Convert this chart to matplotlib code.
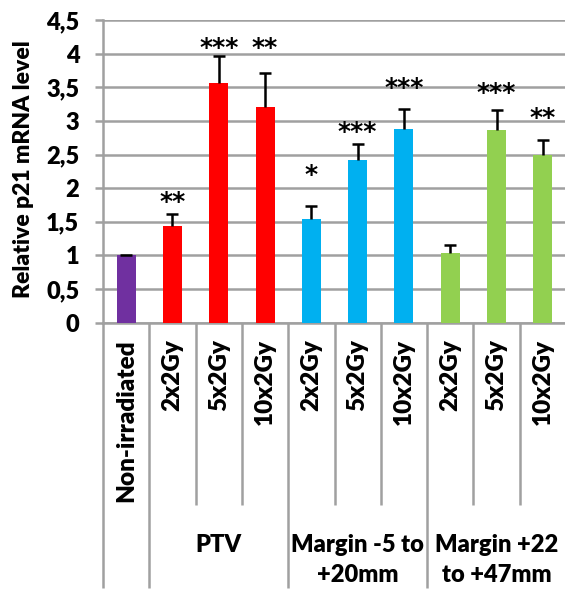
import matplotlib.pyplot as plt
import matplotlib.transforms as mtransforms
import numpy as np

# data
categories = ['Non-irradiated', '2x2Gy', '5x2Gy', '10x2Gy', '2x2Gy', '5x2Gy', '10x2Gy',
              '2x2Gy', '5x2Gy', '10x2Gy']
groups = ['', 'PTV', 'Margin -5 to\n+20mm', 'Margin +22\nto +47mm']
group_sizes = [1, 3, 3, 3]
values = [1.0, 1.44, 3.56, 3.20, 1.54, 2.42, 2.88, 1.03, 2.86, 2.49]
errors = [0.01, 0.175, 0.40, 0.51, 0.20, 0.24, 0.30, 0.13, 0.30, 0.23]
stars = ['', '**', '***', '**', '*', '***', '***', '', '***', '**']
star_y = [0, 1.86, 4.15, 4.15, 2.25, 2.89, 3.55, 0, 3.47, 3.11]
yticks = [0, 0.5, 1, 1.5, 2, 2.5, 3, 3.5, 4, 4.5]
ytick_labels = ['0', '0,5', '1', '1,5', '2', '2,5', '3', '3,5', '4', '4,5']
colors = ['#7030A0'] + ['#FF0000'] * 3 + ['#00B0F0'] * 3 + ['#92D050'] * 3

plt.rcParams['font.family'] = ['Lato', 'DejaVu Sans']
grid_col = '#A0A0A0'
fw = 'heavy'

fig = plt.figure(figsize=(5.65, 5.93), dpi=100)
ax = fig.add_axes([103 / 565, (593 - 322.7) / 593, 463 / 565, 302.7 / 593])

x = np.arange(len(values))
ax.bar(x, values, width=0.41, color=colors, zorder=3)

# only the upper half of the error bars, as in Excel
eb = ax.errorbar(x, values, yerr=[np.zeros(len(errors)), errors], fmt='none',
                 ecolor='black', elinewidth=1.8, capsize=4, capthick=1.8, zorder=4)
eb[1][0].set_visible(False)

# asterisk glyph sits high in its box, nudge the text down a little
star_trans = ax.transData + mtransforms.ScaledTranslation(0, -4 / 100, fig.dpi_scale_trans)
for xi, s, sy in zip(x, stars, star_y):
    if s:
        ax.text(xi, sy, s, ha='center', va='center', fontsize=18, fontweight='bold',
                family='DejaVu Sans', color='black', transform=star_trans)

ax.set_xlim(-0.5, len(values) - 0.5)
ax.set_ylim(0, 4.5)
ax.set_yticks(yticks)
ax.set_yticklabels(ytick_labels, fontsize=17, fontweight=fw)
ax.yaxis.grid(True, color=grid_col, lw=1.8, zorder=0)
ax.set_axisbelow(True)
ax.tick_params(axis='y', length=6, width=1.8, color=grid_col, pad=11)

ax.set_xticks(x)
ax.set_xticklabels(categories, rotation=90, fontsize=17.5, fontweight=fw)
ax.tick_params(axis='x', length=0, pad=12)

for side in ['top', 'right']:
    ax.spines[side].set_visible(False)
for side in ['left', 'bottom']:
    ax.spines[side].set_color(grid_col)
    ax.spines[side].set_linewidth(1.8)

ax.set_ylabel('Relative p21 mRNA level', fontsize=16.5, fontweight=fw)
ax.yaxis.set_label_coords(-0.149, 0.508)

# multi-level category axis
trans = ax.get_xaxis_transform()
bounds = np.arange(len(values) + 1) - 0.5
group_edges = np.cumsum([0] + group_sizes) - 0.5
for b in bounds:
    bottom = -0.876 if b in group_edges else -0.602
    ax.vlines(b, bottom, 0, transform=trans, color=grid_col, lw=1.8, clip_on=False)

start = 0
for g, n in zip(groups, group_sizes):
    if g:
        ax.text(start + (n - 1) / 2, -0.697, g, transform=trans, ha='center', va='top',
                fontsize=17, fontweight=fw, linespacing=1.45)
    start += n

fig.savefig('out.png', dpi=100)
